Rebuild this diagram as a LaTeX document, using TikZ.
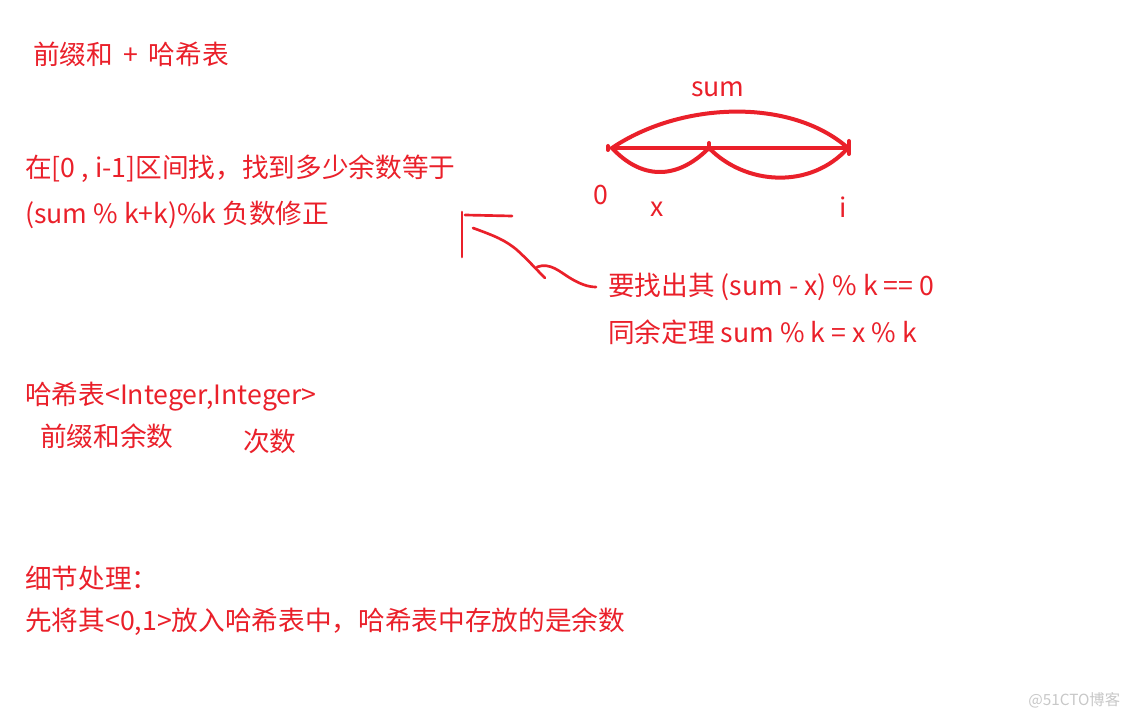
\documentclass[tikz,border=0pt]{standalone}
\usepackage{fontspec}
\setmainfont{Noto Sans CJK SC}
\usepackage{tikz}
\usetikzlibrary{calc}
\definecolor{inkred}{RGB}{234,32,42}
\definecolor{markgray}{RGB}{200,200,200}

\begin{document}
\begin{tikzpicture}
[x=0.75pt,y=-0.75pt,
  textdecorate/.style={anchor=west,inner sep=0pt,text=inkred,font=\fontsize{20}{24}\selectfont},%
  arcdecorate/.style={draw=inkred,line width=3pt,line cap=round,line join=round},%
  handdecorate/.style={draw=inkred,line width=2pt,line cap=round,line join=round}]
\useasboundingbox[fill=white] (0,0) rectangle (1129,720);
%% text lines
\foreach \nodename/\x/\y/\words in {title/33/54/{前缀和 \,+\, 哈希表},
  find/25/169/{在[0 , i-1]区间找，找到多少余数等于},
  fix/25/215/{(sum \% k+k)\%k 负数修正},
  goal/608/287/{要找出其 (sum - x) \% k == 0},
  rule/608/332/{同余定理 sum \% k = x \% k},
  map/25/397/{哈希表<Integer,Integer>},
  key/40/436/{前缀和余数}, count/243/441/{次数},
  detail/25/578/{细节处理：},
  init/25/622/{先将其<0,1>放入哈希表中，哈希表中存放的是余数}}
{
  \node (\nodename) at (\x,\y) [textdecorate] {\words};
}
%% labels of the segment
\foreach \nodename/\x/\y/\words in {sum/718/89/sum, zero/601/195/0,
  xpos/657/209/x, ipos/843/207/i}
{
  \node (\nodename) at (\x,\y) [textdecorate,anchor=center] {\words};
}
%% segment and arcs
\coordinate (a) at (612,148);
\coordinate (m) at (709,148);
\coordinate (b) at (848,148);
\path[arcdecorate] (a) -- (b);
\path[arcdecorate] (a) .. controls (680,102) and (790,97) .. (b);
\path[arcdecorate] (a) .. controls (640,178) and (675,182) .. (m);
\path[arcdecorate] (m) .. controls (745,185) and (810,190) .. (b);
\path[arcdecorate] (608,146) -- (608,150);
\path[arcdecorate] (m) -- ++(0,-5);
\path[arcdecorate] (849,141) -- (849,154);
%% hand drawn pointer
\coordinate (top) at (462,212);
\path[handdecorate] (top) -- (462,257);
\path[handdecorate] (465,215) -- (512,216);
\path[handdecorate] (473,228) .. controls (495,236) and (505,240) .. (517,250)
  .. controls (528,260) and (535,268) .. (545,278);
\path[handdecorate] (537,267) .. controls (550,262) and (560,272) .. (570,278)
  .. controls (580,284) and (588,287) .. ($(goal.west)+(-12,0)$);
%% watermark
\node (mark) at (1028,700) [anchor=west,inner sep=0pt,text=markgray,font=\fontsize{11.5}{14}\selectfont] {@51CTO博客};
\end{tikzpicture}
\end{document}
